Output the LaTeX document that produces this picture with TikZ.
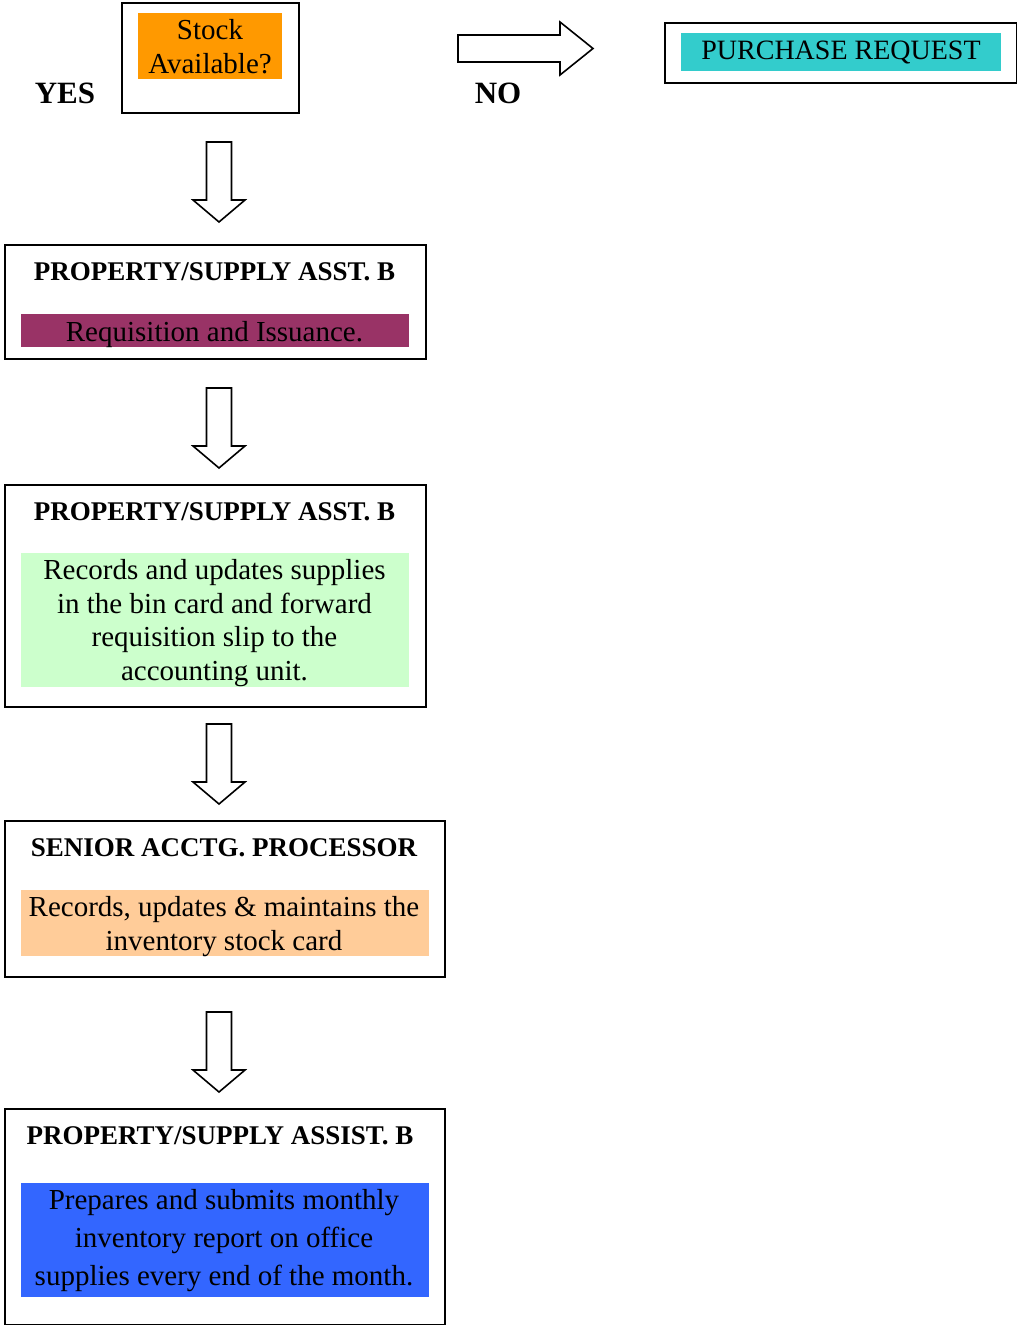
\documentclass[tikz,border=0pt]{standalone}
\usepackage{fontspec}
\setmainfont{Liberation Serif}

\definecolor{stockorange}{HTML}{FF9900}
\definecolor{reqteal}{HTML}{33CCCC}
\definecolor{issuemagenta}{HTML}{993366}
\definecolor{recgreen}{HTML}{CCFFCC}
\definecolor{invpeach}{HTML}{FFCC99}
\definecolor{repblue}{HTML}{3366FF}

\newcommand{\bodyfont}{\fontsize{29}{33.5}\selectfont}
\newcommand{\headfont}{\fontsize{27}{30}\selectfont\bfseries}

\tikzset{
  outerbox/.style={draw=black, line width=2pt, anchor=north west, inner sep=0pt},
  fillbox/.style={anchor=north west, inner sep=0pt},
  bodytext/.style={align=center, font=\bodyfont, inner sep=0pt},
  headtext/.style={font=\headfont, inner sep=0pt},
  yesno/.style={font=\fontsize{31}{34}\selectfont\bfseries, inner sep=0pt},
  blockarrow/.style={draw=black, line width=1.6pt, fill=white, line join=miter},
  downarrow/.pic={
    \draw[blockarrow] (-12.5,0) -- (12.5,0) -- (12.5,58) -- (26,58) -- (0,80)
      -- (-26,58) -- (-12.5,58) -- cycle;
  }
}

\begin{document}
\begin{tikzpicture}[x=1pt, y=-1pt]
  \useasboundingbox (0,0) rectangle (1017,1325);

  % decision box
  \node[outerbox, minimum width=177pt, minimum height=110pt] (stock) at (121,2) {};
  \node[fillbox, fill=stockorange, minimum width=144pt, minimum height=66pt] (stockfill) at (138,13) {};
  \node[bodytext] (stocktxt) at (210,46.5) {Stock\\Available?};

  \node[yesno] (yes) at (65,93) {YES};
  \node[yesno] (no) at (498,93) {NO};

  % purchase request
  \node[outerbox, minimum width=352pt, minimum height=60pt] (purchase) at (664,22) {};
  \node[fillbox, fill=reqteal, minimum width=320pt, minimum height=38pt] (purchasefill) at (681,33) {};
  \node[bodytext, font=\fontsize{28}{33}\selectfont] (purchasetxt) at (841,52) {PURCHASE REQUEST};

  % right block arrow
  \coordinate (ra) at (458,48.5);
  \draw[blockarrow] (ra) ++(0,-13.5) -- ++(102,0) -- ++(0,-13) -- ++(33,26.5)
    -- ++(-33,26.5) -- ++(0,-13) -- ++(-102,0) -- cycle;

  % step 1
  \node[outerbox, minimum width=421pt, minimum height=114pt] (s1) at (4,244) {};
  \node[headtext] (s1head) at (214.5,272) {PROPERTY/SUPPLY ASST. B};
  \node[fillbox, fill=issuemagenta, minimum width=388pt, minimum height=33pt] (s1fill) at (21,314) {};
  \node[bodytext] (s1txt) at (214.5,335) {Requisition and Issuance.};

  % step 2
  \node[outerbox, minimum width=421pt, minimum height=222pt] (s2) at (4,484) {};
  \node[headtext] (s2head) at (214.5,512) {PROPERTY/SUPPLY ASST. B};
  \node[fillbox, fill=recgreen, minimum width=388pt, minimum height=134pt] (s2fill) at (21,553) {};
  \node[bodytext] (s2txt) at (214.5,623) {Records and updates supplies\\in the bin card and forward\\requisition slip to the\\accounting unit.};

  % step 3
  \node[outerbox, minimum width=440pt, minimum height=156pt] (s3) at (4,820) {};
  \node[headtext] (s3head) at (224,848) {SENIOR ACCTG. PROCESSOR};
  \node[fillbox, fill=invpeach, minimum width=408pt, minimum height=66pt] (s3fill) at (21,890) {};
  \node[bodytext] (s3txt) at (224,926.5) {Records, updates \& maintains the\\inventory stock card};

  % step 4
  \node[outerbox, minimum width=440pt, minimum height=216pt] (s4) at (4,1108) {};
  \node[headtext] (s4head) at (220,1136) {PROPERTY/SUPPLY ASSIST. B};
  \node[fillbox, fill=repblue, minimum width=408pt, minimum height=114pt] (s4fill) at (21,1183) {};
  \node[bodytext, font=\fontsize{29}{38}\selectfont] (s4txt) at (224,1241) {Prepares and submits monthly\\inventory report on office\\supplies every end of the month.};

  % down block arrows between the stages
  \pic at (219,142) {downarrow};
  \pic at (219,388) {downarrow};
  \pic at (219,724) {downarrow};
  \pic at (219,1012) {downarrow};
\end{tikzpicture}
\end{document}
